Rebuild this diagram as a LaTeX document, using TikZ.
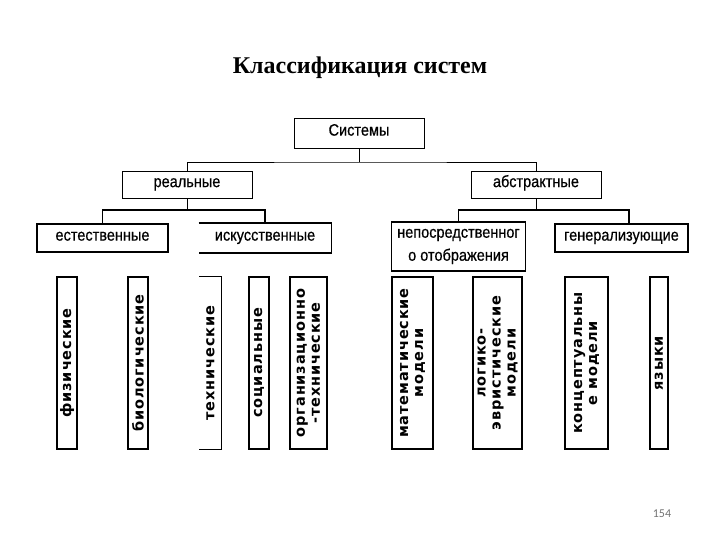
\documentclass[tikz,border=0pt]{standalone}
\usepackage{fontspec}
\setmainfont{Liberation Sans}
\newfontfamily\titlefont{Liberation Serif}
\newfontfamily\narrowfont[FakeStretch=0.88,FakeBold=0.6]{Liberation Sans}
\newfontfamily\leaffont[LetterSpace=6]{DejaVu Sans}
\newfontfamily\numfont{Carlito}
\usetikzlibrary{positioning}

\tikzset{
  topbox/.style={draw, line width=0.9pt, inner sep=0pt, minimum width=130pt, minimum height=30pt,
    text height=0.72em, text depth=0.2em, font=\narrowfont\fontsize{16.5}{22}\selectfont},
  catframe/.style={draw, line width=1.6pt, inner sep=0pt, minimum width=131pt, minimum height=28pt,
    align=center, font=\narrowfont\fontsize{16.5}{23}\selectfont},
  catbox/.style={catframe, text height=0.72em, text depth=0.2em},
  leafbox/.style={draw, line width=1.2pt, inner sep=0pt, rotate=90, minimum width=172pt,
    align=center, font=\leaffont\bfseries\fontsize{14.5}{15}\selectfont},
  thinline/.style={line width=0.9pt},
  thickline/.style={line width=1.6pt}
}

\begin{document}
\begin{tikzpicture}[x=1pt,y=-1pt]
\useasboundingbox (0,0) rectangle (720,540);

% Title
\node[font=\titlefont\bfseries\fontsize{24}{28}\selectfont] (title) at (360,68) {Классификация систем};

% Top levels
\node[topbox] (sys) at (359,133) {Системы};
\node[topbox, minimum height=27pt] (real) at (187,184.5) {реальные};
\node[topbox, minimum height=27pt] (abstr) at (536,184.5) {абстрактные};

\coordinate (j0) at (359,162);
\draw[thinline] (sys.south) -- (j0);
\draw[thinline] (real.north) |- (j0) -| (abstr.north);

% Categories
\node[catbox] (nat) at (102.5,238) {естественные};
\node[catbox, draw=none] (art) at (265,238) {искусственные};
\draw[thickline] (art.north west) -- (art.north east) -- (art.south east) -- (art.south west);
\node[catframe, minimum width=134pt, minimum height=49pt] (direct) at (458.5,246.5) {непосредственног\\о отображения};
\node[catbox, minimum width=133pt] (gen) at (621.5,238) {генерализующие};

\coordinate (j1) at (187,210);
\coordinate (j2) at (536,210);
\coordinate (jg) at (629,210);
\draw[thinline] (real.south) -- (j1);
\draw[thickline] (nat.north) |- (j1) -| (art.north);
\draw[thinline] (abstr.south) -- (j2);
\draw[thickline] (direct.north) |- (j2) -- (jg) -- (jg |- gen.north);

% Leaves
\node[leafbox, minimum height=20pt] (phys) at (67,363) {физические};
\node[leafbox, minimum height=20pt] (bio) at (138,363) {биологические};
\node[leafbox, minimum height=21pt, draw=none] (tech) at (210.5,363) {технические};
\draw[line width=1.2pt] (tech.north east) -- (tech.south east) -- (tech.south west) -- (tech.north west);
\node[leafbox, minimum height=20pt] (soc) at (259,363) {социальные};
\node[leafbox, minimum height=37pt] (org) at (308.5,363) {организационно\\-технические};
\node[leafbox, minimum height=41pt] (math) at (412.5,363) {математические\\модели};
\node[leafbox, minimum height=49pt] (logic) at (497.5,363) {логико-\\эвристические\\модели};
\node[leafbox, minimum height=43pt] (concept) at (586.5,363) {концептуальны\\е модели};
\node[leafbox, minimum height=18pt] (lang) at (659,363) {языки};

% Page number
\node[font=\numfont\fontsize{12}{14}\selectfont, text=black!55] (page) at (662,514) {154};

\end{tikzpicture}
\end{document}
